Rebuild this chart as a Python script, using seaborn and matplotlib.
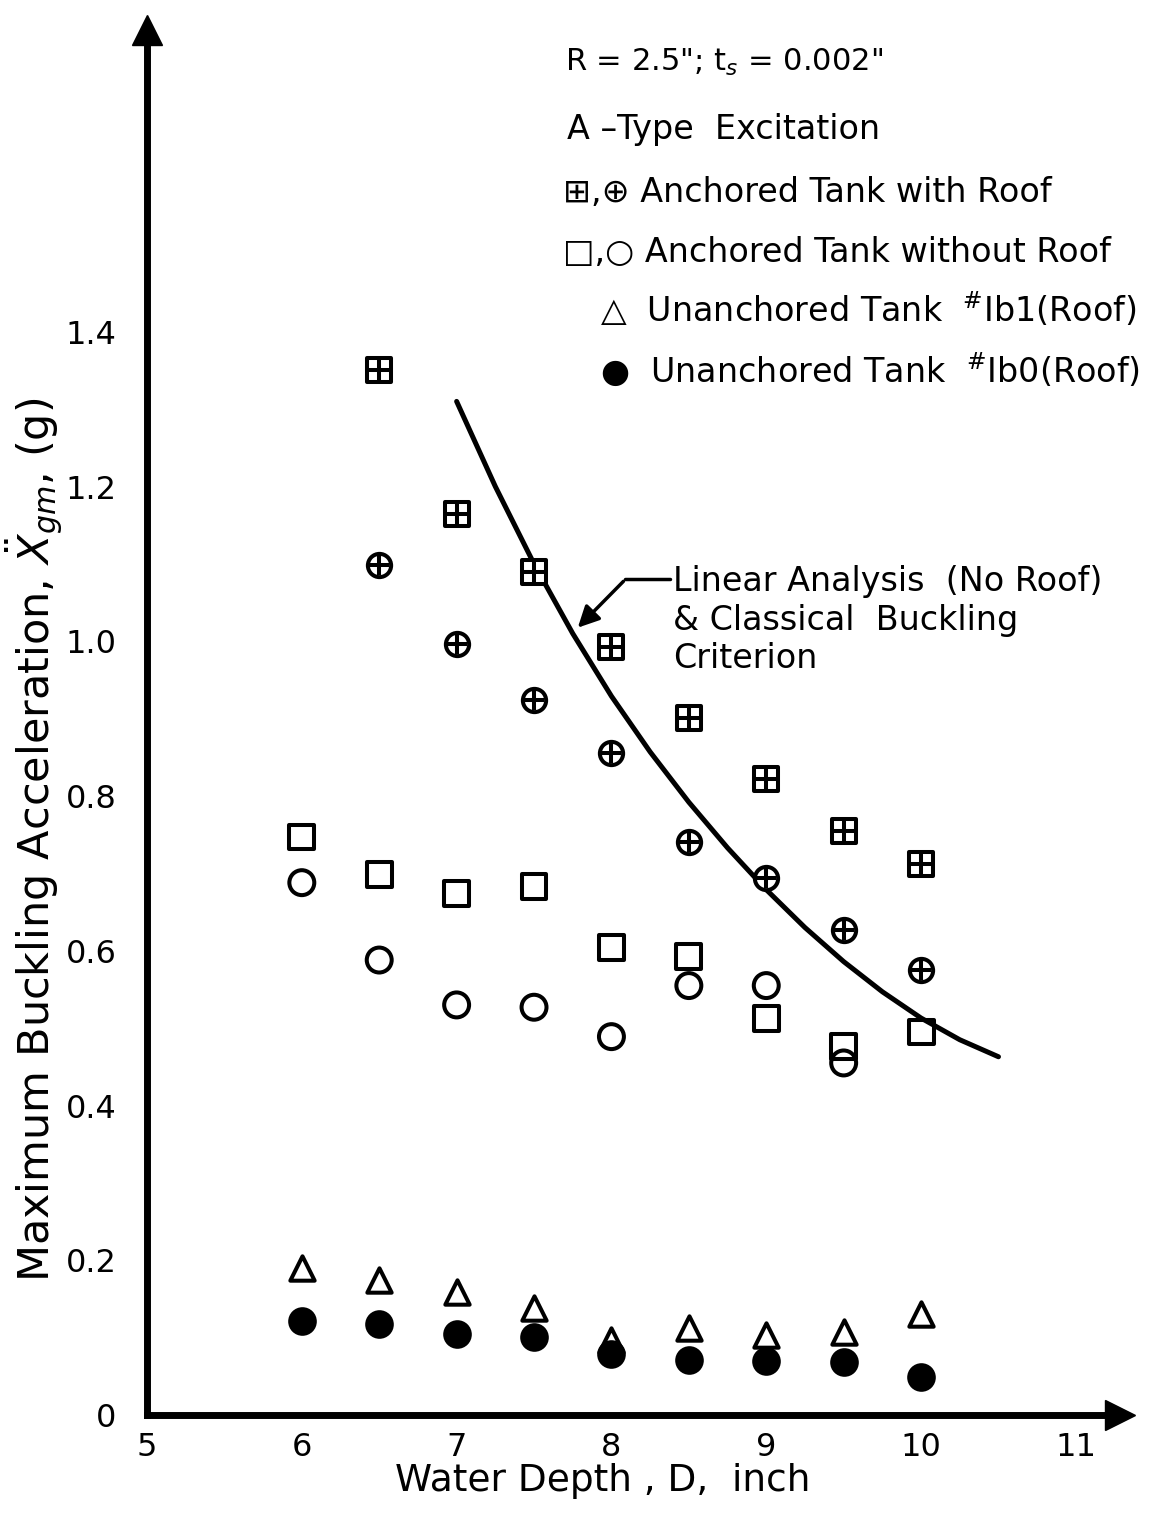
import pandas as pd
import seaborn as sns
import matplotlib.pyplot as plt

# Datos
roof_depth = [6.5, 7.0, 7.5, 8.0, 8.5, 9.0, 9.5, 10.0]
roof_box = [1.351, 1.164, 1.089, 0.992, 0.901, 0.822, 0.755, 0.712]
roof_circ = [1.098, 0.997, 0.924, 0.855, 0.740, 0.694, 0.627, 0.575]

noroof_sq_depth = [6.0, 6.5, 7.0, 7.5, 8.0, 8.5, 9.0, 9.5, 10.0]
noroof_sq = [0.747, 0.698, 0.674, 0.683, 0.604, 0.592, 0.512, 0.476, 0.495]
noroof_circ_depth = [6.0, 6.5, 7.0, 7.5, 8.0, 8.5, 9.0, 9.5]
noroof_circ = [0.688, 0.588, 0.530, 0.527, 0.489, 0.555, 0.555, 0.455]

unanch_depth = [6.0, 6.5, 7.0, 7.5, 8.0, 8.5, 9.0, 9.5, 10.0]
unanch_ib1 = [0.190, 0.175, 0.159, 0.138, 0.097, 0.112, 0.103, 0.107, 0.131]
unanch_ib0 = [0.122, 0.118, 0.105, 0.101, 0.079, 0.071, 0.070, 0.069, 0.049]

# Curva: análisis lineal + criterio de pandeo clásico
curve_depth = [7.0, 7.25, 7.5, 7.75, 8.0, 8.25, 8.5, 8.75, 9.0, 9.25, 9.5, 9.75, 10.0, 10.25, 10.5]
curve_acc = [1.310, 1.200, 1.100, 1.010, 0.929, 0.857, 0.792, 0.733, 0.679, 0.630, 0.586,
             0.547, 0.513, 0.485, 0.463]

x_ticks = [5, 6, 7, 8, 9, 10, 11]
y_ticks = [0, 0.2, 0.4, 0.6, 0.8, 1.0, 1.2, 1.4]
y_labels = ['0', '0.2', '0.4', '0.6', '0.8', '1.0', '1.2', '1.4']

sns.set_style('white')
plt.rcParams['font.family'] = ['DejaVu Sans']
plt.rcParams['text.color'] = 'black'
plt.rcParams['axes.labelcolor'] = 'black'

W, H = 1172, 1518
fig = plt.figure(figsize=(W / 100, H / 100), dpi=100)
ax = fig.add_axes([147 / W, 1 - 1415 / H, (1120 - 147) / W, (1415 - 30) / H])

ms = 280
lw = 2.9
# Tanque anclado con techo
sns.scatterplot(x=roof_depth, y=roof_box, marker='s', s=ms, facecolor='white',
                edgecolor='black', linewidth=lw, ax=ax, zorder=3)
sns.scatterplot(x=roof_depth, y=roof_box, marker='+', s=ms * 0.8, color='black',
                linewidth=lw, ax=ax, zorder=4)
sns.scatterplot(x=roof_depth, y=roof_circ, marker='o', s=ms, facecolor='white',
                edgecolor='black', linewidth=lw, ax=ax, zorder=3)
sns.scatterplot(x=roof_depth, y=roof_circ, marker='+', s=ms * 0.8, color='black',
                linewidth=lw, ax=ax, zorder=4)
# Tanque anclado sin techo
sns.scatterplot(x=noroof_sq_depth, y=noroof_sq, marker='s', s=ms * 1.15, facecolor='none',
                edgecolor='black', linewidth=lw, ax=ax, zorder=3)
sns.scatterplot(x=noroof_circ_depth, y=noroof_circ, marker='o', s=ms * 1.15, facecolor='none',
                edgecolor='black', linewidth=lw, ax=ax, zorder=3)
# Tanques no anclados
sns.scatterplot(x=unanch_depth, y=unanch_ib1, marker='^', s=ms * 1.1, facecolor='white',
                edgecolor='black', linewidth=lw, ax=ax, zorder=3)
sns.scatterplot(x=unanch_depth, y=unanch_ib0, marker='o', s=ms * 1.3, color='black',
                edgecolor='black', ax=ax, zorder=3)

sns.lineplot(x=curve_depth, y=curve_acc, color='black', linewidth=3.6, ax=ax, zorder=2)

# Anotación de la curva
ax.plot([8.09, 8.38], [1.08, 1.08], color='black', lw=2.5)
ax.annotate('', xy=(7.77, 1.015), xytext=(8.09, 1.08),
            arrowprops=dict(arrowstyle='-|>', lw=2.5, color='black', mutation_scale=32))
ax.text(8.40, 1.098, 'Linear Analysis  (No Roof)\n& Classical  Buckling\nCriterion',
        fontsize=24, va='top', ha='left', linespacing=1.2)

ax.set_xlim(5, 11.285)
ax.set_ylim(0, 1.79)
ax.set_xticks(x_ticks)
ax.set_xticklabels([str(v) for v in x_ticks])
ax.set_yticks(y_ticks)
ax.set_yticklabels(y_labels)
ax.tick_params(axis='both', direction='in', length=14, width=2, labelsize=23, colors='black')
ax.tick_params(axis='y', pad=22)
ax.tick_params(axis='x', pad=12)

for side in ['top', 'right']:
    ax.spines[side].set_visible(False)
for side in ['left', 'bottom']:
    ax.spines[side].set_linewidth(5)
    ax.spines[side].set_color('black')

# Flechas de los ejes
ax.plot(0, 1, marker='^', ms=22, color='black', transform=ax.transAxes, clip_on=False)
ax.plot(1, 0, marker='>', ms=22, color='black', transform=ax.transAxes, clip_on=False)

ax.set_xlabel('Water Depth , D,  inch', fontsize=27)
ax.xaxis.set_label_coords((603 - 147) / 973, (1415 - 1463) / 1385)
ax.set_ylabel(r'Maximum Buckling Acceleration, $\ddot{X}_{gm}$, (g)', fontsize=31)
ax.yaxis.set_label_coords((64 - 147) / 973, (1415 - 840) / 1385)

# Texto de leyenda
def ftext(px, py, s, size=24):
    fig.text(px / W, 1 - py / H, s, fontsize=size, va='center', ha='left')

ftext(565, 62, 'R = 2.5"; t$_s$ = 0.002"', 22)
ftext(567, 130, 'A \u2013Type  Excitation')
ftext(563, 193, '\u229e,\u2295 Anchored Tank with Roof')
ftext(563, 253, '\u25a1,\u25cb Anchored Tank without Roof')
ftext(600, 310, '\u25b3  Unanchored Tank  $^{\\#}$Ib1(Roof)')
ftext(600, 370, '\u25cf  Unanchored Tank  $^{\\#}$Ib0(Roof)')

fig.savefig('out.png', dpi=100)
